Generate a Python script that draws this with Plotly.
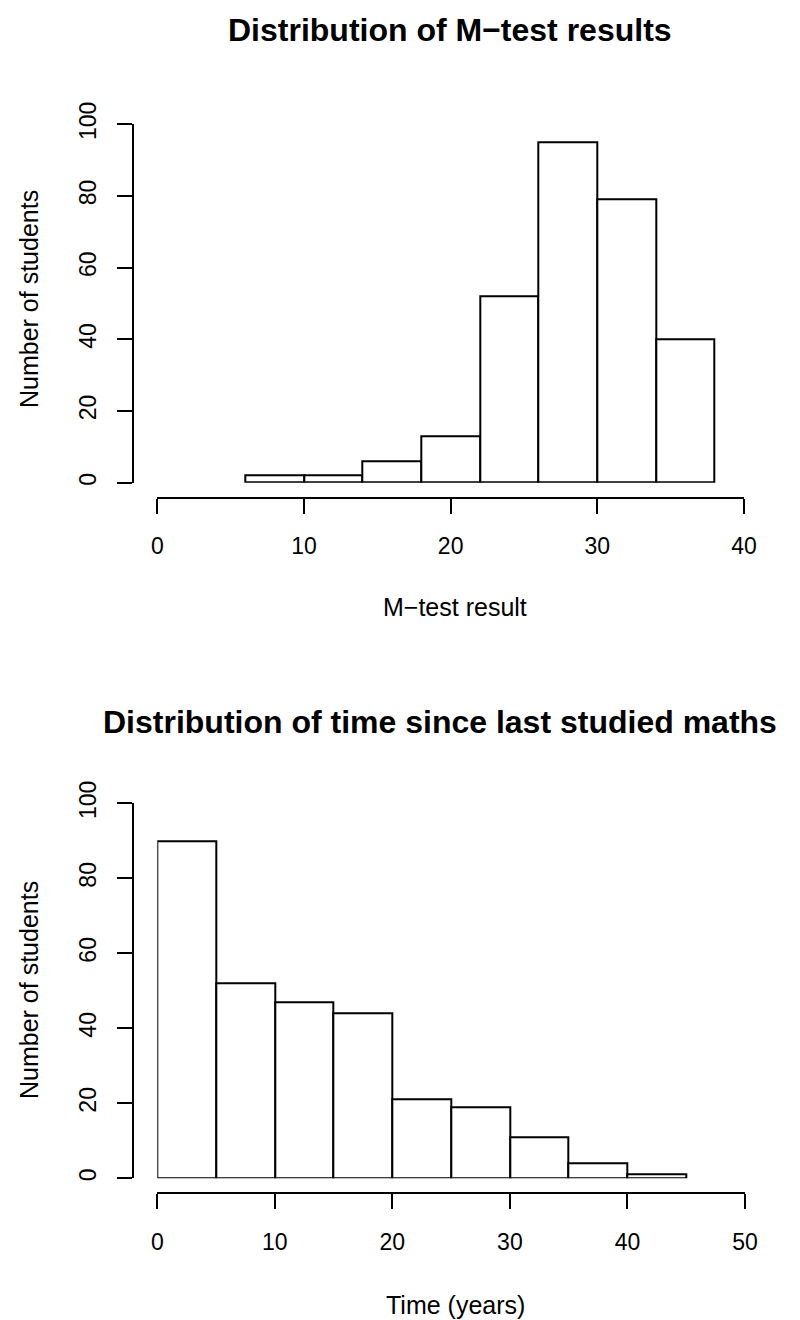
import plotly.graph_objects as go

W, H = 800, 1320
FONT = "Liberation Sans, Arial, Helvetica, sans-serif"

# M-test results: histogram breaks and counts
mtest_breaks = [6, 10, 14, 18, 22, 26, 30, 34, 38]
mtest_counts = [2, 2, 6, 13, 52, 95, 79, 40]
mtest_xticks = [0, 10, 20, 30, 40]

# Time since last studied maths (years): breaks and counts
time_breaks = [0, 5, 10, 15, 20, 25, 30, 35, 40, 45]
time_counts = [90, 52, 47, 44, 21, 19, 11, 4, 1]
time_xticks = [0, 10, 20, 30, 40, 50]

yticks = [0, 20, 40, 60, 80, 100]


def mids(b):
    return [(b[i] + b[i + 1]) / 2 for i in range(len(b) - 1)]


def widths(b):
    return [b[i + 1] - b[i] for i in range(len(b) - 1)]


def fx(p):
    return p / W


def fy(p):
    return 1 - p / H


fig = go.Figure()

fig.add_trace(go.Bar(
    x=mids(mtest_breaks), y=mtest_counts, width=widths(mtest_breaks),
    marker=dict(color="white", line=dict(color="black", width=2)),
    xaxis="x", yaxis="y", showlegend=False, hoverinfo="skip",
))
fig.add_trace(go.Bar(
    x=mids(time_breaks), y=time_counts, width=widths(time_breaks),
    marker=dict(color="white", line=dict(color="black", width=2)),
    xaxis="x2", yaxis="y2", showlegend=False, hoverinfo="skip",
))

tick_font = dict(family=FONT, size=23, color="black")
common_x = dict(showgrid=False, zeroline=False, showline=True, linecolor="black",
                linewidth=2, ticks="outside", ticklen=15, tickwidth=2,
                tickcolor="black", tickfont=tick_font, anchor="free",
                automargin=False, fixedrange=True, ticklabelstandoff=13)
common_y = dict(showgrid=False, zeroline=False, showline=True, linecolor="black",
                linewidth=2, ticks="outside", ticklen=15, tickwidth=2,
                tickcolor="black", tickfont=tick_font, anchor="free",
                tickangle=-90, range=[0, 100], tickvals=yticks,
                automargin=False, fixedrange=True, ticklabelstandoff=12)

fig.update_layout(
    template="none",
    width=W, height=H,
    margin=dict(l=0, r=0, t=0, b=0, pad=0, autoexpand=False),
    paper_bgcolor="white", plot_bgcolor="white",
    bargap=0,
    font=dict(family=FONT, color="black"),
    xaxis=dict(common_x, domain=[fx(157.3), fx(744)], range=[0, 40],
               tickvals=mtest_xticks, position=fy(497.5)),
    yaxis=dict(common_y, domain=[fy(482.7), fy(124.3)], position=fx(132.7)),
    xaxis2=dict(common_x, domain=[fx(157.3), fx(745)], range=[0, 50],
                tickvals=time_xticks, position=fy(1193)),
    yaxis2=dict(common_y, domain=[fy(1178.3), fy(803.3)], position=fx(132.7)),
)

title_font = dict(family=FONT, size=32, color="black")
label_font = dict(family=FONT, size=25, color="black")

annotations = [
    dict(text="<b>Distribution of M−test results</b>", x=fx(450), y=fy(30),
         font=title_font),
    dict(text="<b>Distribution of time since last studied maths</b>", x=fx(440),
         y=fy(722), font=title_font),
    dict(text="M−test result", x=fx(455), y=fy(607), font=label_font),
    dict(text="Time (years)", x=fx(455), y=fy(1305), font=label_font),
    dict(text="Number of students", x=fx(29), y=fy(299), font=label_font,
         textangle=-90),
    dict(text="Number of students", x=fx(29), y=fy(990), font=label_font,
         textangle=-90),
]
for a in annotations:
    a.update(xref="paper", yref="paper", showarrow=False,
             xanchor="center", yanchor="middle")
fig.update_layout(annotations=annotations)

fig.write_html("out.html")
